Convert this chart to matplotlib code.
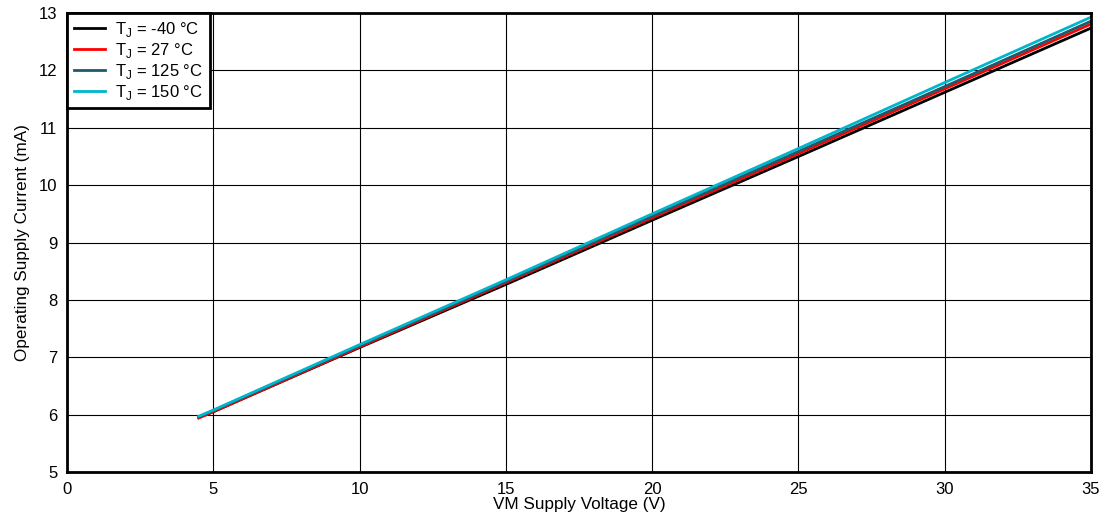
#!/usr/bin/env python3

"""Operating supply current vs VM supply voltage at several junction temperatures."""

import matplotlib
matplotlib.use("Agg")
import matplotlib.pyplot as plt

plt.rcParams['font.family'] = ['Liberation Sans', 'DejaVu Sans']
plt.rcParams['mathtext.fontset'] = 'custom'
plt.rcParams['mathtext.rm'] = 'Liberation Sans'

# VM supply voltage (V)
vm = [4.5, 5, 10, 15, 20, 25, 30, 35]

# operating supply current (mA) per junction temperature
i_m40 = [5.95, 6.05, 7.17, 8.27, 9.39, 10.50, 11.62, 12.74]
i_27 = [5.94, 6.05, 7.18, 8.30, 9.43, 10.55, 11.68, 12.81]
i_125 = [5.96, 6.07, 7.20, 8.32, 9.46, 10.59, 11.72, 12.86]
i_150 = [5.97, 6.08, 7.22, 8.35, 9.50, 10.64, 11.79, 12.93]

labels = ['T$_\\mathrm{J}$ = -40 °C', 'T$_\\mathrm{J}$ = 27 °C',
          'T$_\\mathrm{J}$ = 125 °C', 'T$_\\mathrm{J}$ = 150 °C']
colors = ['#000000', '#ff0000', '#1d5a6a', '#00b5cc']


def plot_results():
    fig = plt.figure(figsize=(11.08, 5.25), dpi=100)
    ax = fig.add_axes([0.0605, 0.101, 0.9242, 0.874])

    for series, label, color in zip([i_m40, i_27, i_125, i_150], labels, colors):
        ax.plot(vm, series, color=color, lw=2, label=label)

    ax.set_xlim(0, 35)
    ax.set_ylim(5, 13)
    ax.set_xticks(range(0, 36, 5))
    ax.set_yticks(range(5, 14))
    ax.grid(True, color='black', lw=0.8)
    ax.tick_params(length=0, labelsize=12)
    ax.tick_params(axis='x', pad=7)
    ax.tick_params(axis='y', pad=7)
    for spine in ax.spines.values():
        spine.set_linewidth(2)

    ax.set_xlabel('VM Supply Voltage (V)', fontsize=12.3, labelpad=0)
    ax.set_ylabel('Operating Supply Current (mA)', fontsize=12.3, labelpad=6)

    leg = ax.legend(loc='upper left', fontsize=12, borderaxespad=0,
                    fancybox=False, framealpha=1, edgecolor='black',
                    handlelength=1.9, handletextpad=0.6, labelspacing=0.12,
                    borderpad=0.4)
    leg.get_frame().set_linewidth(2)

    fig.savefig('out.png', dpi=100)


if __name__ == '__main__':
    plot_results()
